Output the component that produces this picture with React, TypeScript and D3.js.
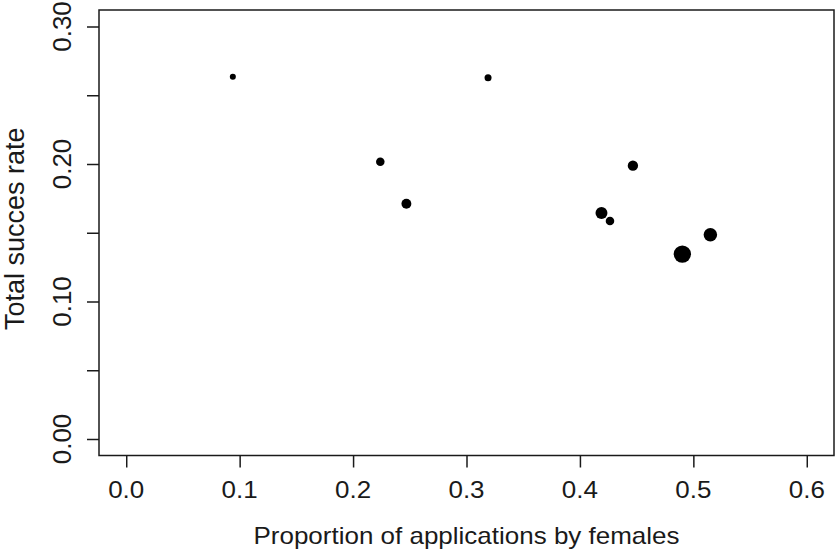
import { useEffect, useRef } from 'react';
import * as d3 from 'd3';

// proportion of applications by females, total success rate, point size (cex)
const propFemale = [0.094, 0.319, 0.224, 0.247, 0.419, 0.4265, 0.4467, 0.4903, 0.515];
const successRate = [0.2635, 0.2628, 0.2017, 0.1711, 0.1644, 0.1586, 0.1988, 0.1345, 0.1486];
const pointSize = [0.67, 0.78, 0.95, 1.1, 1.33, 0.95, 1.15, 1.93, 1.5];

const xTicks = [0, 0.1, 0.2, 0.3, 0.4, 0.5, 0.6];
const yTicks = [0, 0.05, 0.1, 0.15, 0.2, 0.25, 0.3];
const yLabelled = [0, 0.1, 0.2, 0.3];

const xTitle = 'Proportion of applications by females';
const yTitle = 'Total succes rate';

const width = 837;
const height = 555;
const font = '"Liberation Sans", Arial, Helvetica, sans-serif';

export default function App() {
  const ref = useRef<SVGSVGElement>(null);

  useEffect(() => {
    if (!ref.current) return;
    const svg = d3.select(ref.current);
    svg.selectAll('*').remove();

    // R pads the axis limits by 4% on each side
    const box = { left: 99, right: 834, top: 10, bottom: 455.5 };
    const x = d3.scaleLinear().domain([-0.024, 0.624]).range([box.left, box.right]);
    const y = d3.scaleLinear().domain([-0.012, 0.312]).range([box.bottom, box.top]);
    const r = d3.scaleLinear().domain([0, 1]).range([0, 4.5]);

    const ink = '#1a1a1a';

    svg.append('rect')
      .attr('x', box.left)
      .attr('y', box.top)
      .attr('width', box.right - box.left)
      .attr('height', box.bottom - box.top)
      .attr('fill', 'none')
      .attr('stroke', ink)
      .attr('stroke-width', 1.5);

    // x axis
    const xAxis = svg.append('g')
      .attr('transform', `translate(0,${box.bottom})`)
      .call(d3.axisBottom(x).tickValues(xTicks).tickSize(12).tickFormat(() => ''));
    xAxis.select('.domain').remove();
    xAxis.selectAll('.tick line').attr('stroke', ink).attr('stroke-width', 1.5);

    svg.append('g')
      .selectAll('text')
      .data(xTicks)
      .enter().append('text')
      .attr('transform', d => `translate(${x(d)},498) scale(1,0.9)`)
      .attr('text-anchor', 'middle')
      .attr('fill', ink)
      .attr('font-family', font)
      .attr('font-size', 26)
      .text(d => d3.format('.1f')(d));

    // y axis
    const yAxis = svg.append('g')
      .attr('transform', `translate(${box.left},0)`)
      .call(d3.axisLeft(y).tickValues(yTicks).tickSize(12).tickFormat(() => ''));
    yAxis.select('.domain').remove();
    yAxis.selectAll('.tick line').attr('stroke', ink).attr('stroke-width', 1.5);

    svg.append('g')
      .selectAll('text')
      .data(yLabelled)
      .enter().append('text')
      .attr('transform', d => `translate(71,${y(d)}) rotate(-90)`)
      .attr('text-anchor', 'middle')
      .attr('fill', ink)
      .attr('font-family', font)
      .attr('font-size', 26)
      .text(d => d3.format('.2f')(d));

    // titles
    svg.append('text')
      .attr('transform', `translate(${(box.left + box.right) / 2},544) scale(1,0.9)`)
      .attr('text-anchor', 'middle')
      .attr('fill', ink)
      .attr('font-family', font)
      .attr('font-size', 26)
      .text(xTitle);

    svg.append('text')
      .attr('transform', `translate(24,${(box.top + box.bottom) / 2 - 4}) rotate(-90)`)
      .attr('text-anchor', 'middle')
      .attr('fill', ink)
      .attr('font-family', font)
      .attr('font-size', 27)
      .text(yTitle);

    // points
    svg.append('g')
      .selectAll('circle')
      .data(propFemale.map((p, i) => ({ p, s: successRate[i], c: pointSize[i] })))
      .enter().append('circle')
      .attr('cx', d => x(d.p))
      .attr('cy', d => y(d.s))
      .attr('r', d => r(d.c))
      .attr('fill', '#000');
  }, []);

  return (
    <svg
      ref={ref}
      width={width}
      height={height}
      style={{ position: 'absolute', left: 0, top: 0, background: '#fff' }}
    />
  );
}
